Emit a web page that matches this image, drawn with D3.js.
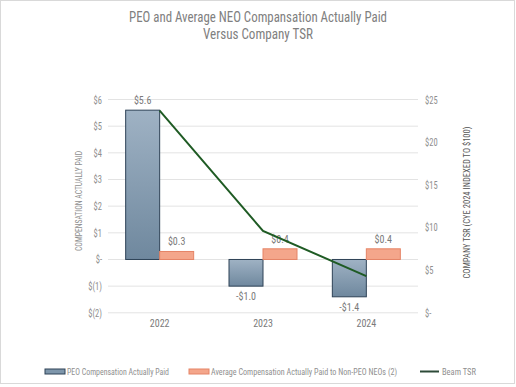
<!DOCTYPE html>
<html><head><meta charset="utf-8">
<script src="https://cdn.jsdelivr.net/npm/d3@7"></script>
<style>
html,body{margin:0;padding:0;background:#fff;}
svg{display:block;}
text{font-family:"Roboto Condensed","Liberation Sans Narrow",Roboto,sans-serif;}
</style></head>
<body>
<svg id="c" width="516" height="387"></svg>
<script>
const years = ["2022","2023","2024"];
const peoCAP = [5.6, -1.0, -1.4];
const neoCAP = [0.3, 0.4, 0.4];
const tsr = [23.7, 9.6, 4.3];
const peoLabels = ["$5.6","-$1.0","-$1.4"];
const neoLabels = ["$0.3","$0.4","$0.4"];
const leftTicks = [-2,-1,0,1,2,3,4,5,6];
const leftTickLabels = ["$(2)","$(1)","$-","$1","$2","$3","$4","$5","$6"];
const rightTicks = [0,5,10,15,20,25];
const rightTickLabels = ["$-","$5","$10","$15","$20","$25"];
const titleLines = ["PEO and Average  NEO Compansation Actually Paid","Versus Company TSR"];
const legendItems = ["PEO Compensation Actually Paid","Average Compensation Actually Paid to Non-PEO NEOs (2)","Beam TSR"];

const svg = d3.select("#c");
const m = {l:108, r:418, t:99.5, b:312.8};

svg.append("rect").attr("x",0.5).attr("y",0.5).attr("width",514).attr("height",383)
  .attr("fill","none").attr("stroke","#d9d9d9").attr("stroke-width",1);

const defs = svg.append("defs");
const g1 = defs.append("linearGradient").attr("id","peoGrad").attr("x1",0).attr("y1",0).attr("x2",0).attr("y2",1);
g1.append("stop").attr("offset","0%").attr("stop-color","#9fb2c4");
g1.append("stop").attr("offset","100%").attr("stop-color","#6f889e");

const x = d3.scaleBand().domain(years).range([m.l, m.r]);
const yL = d3.scaleLinear().domain([-2,6]).range([m.b, m.t]);
const yR = d3.scaleLinear().domain([0,25]).range([m.b, m.t]);
const barW = 34;

svg.append("g").selectAll("line").data(leftTicks).join("line")
  .attr("x1",m.l).attr("x2",m.r).attr("y1",d=>yL(d)).attr("y2",d=>yL(d))
  .attr("stroke","#e3e3e3").attr("stroke-width",1);

const axL = d3.axisLeft(yL).tickValues(leftTicks).tickSize(0).tickPadding(0)
  .tickFormat((d,i)=>leftTickLabels[i]);
const gL = svg.append("g").attr("transform",`translate(102,0)`).call(axL);
gL.select(".domain").remove();
gL.selectAll("text").attr("fill","#8f8f8f").style("font-size","10px").attr("dy","0.35em")
  .attr("textLength",function(){return this.getComputedTextLength()*0.85;}).attr("lengthAdjust","spacingAndGlyphs");

const axR = d3.axisRight(yR).tickValues(rightTicks).tickSize(0).tickPadding(0)
  .tickFormat((d,i)=>rightTickLabels[i]);
const gR = svg.append("g").attr("transform",`translate(425,0)`).call(axR);
gR.select(".domain").remove();
gR.selectAll("text").attr("fill","#8f8f8f").style("font-size","10px").attr("dy","0.35em")
  .attr("textLength",function(){return this.getComputedTextLength()*0.85;}).attr("lengthAdjust","spacingAndGlyphs");

svg.append("g").selectAll("text").data(years).join("text")
  .attr("x",d=>x(d)+x.bandwidth()/2).attr("y",327).attr("text-anchor","middle")
  .attr("fill","#7a7a7a").style("font-size","10px").text(d=>d);

const cx = d => x(d)+x.bandwidth()/2;
svg.append("g").selectAll("rect").data(years).join("rect")
  .attr("x",d=>cx(d)-barW).attr("width",barW)
  .attr("y",(d,i)=>Math.min(yL(peoCAP[i]),yL(0)))
  .attr("height",(d,i)=>Math.abs(yL(peoCAP[i])-yL(0)))
  .attr("fill","url(#peoGrad)").attr("stroke","#2e4257").attr("stroke-width",1);

svg.append("g").selectAll("rect").data(years).join("rect")
  .attr("x",d=>cx(d)).attr("width",barW)
  .attr("y",(d,i)=>Math.min(yL(neoCAP[i]),yL(0)))
  .attr("height",(d,i)=>Math.abs(yL(neoCAP[i])-yL(0)))
  .attr("fill","#f4a68b").attr("stroke","#e58466").attr("stroke-width",1);

svg.append("g").selectAll("text").data(years).join("text")
  .attr("x",d=>cx(d)-barW/2)
  .attr("y",(d,i)=>peoCAP[i]>=0 ? yL(peoCAP[i])-6 : yL(peoCAP[i])+14)
  .attr("text-anchor","middle").attr("fill","#7a7a7a").style("font-size","10px")
  .text((d,i)=>peoLabels[i]);
svg.append("g").selectAll("text").data(years).join("text")
  .attr("x",d=>cx(d)+barW/2)
  .attr("y",(d,i)=>yL(neoCAP[i])-6)
  .attr("text-anchor","middle").attr("fill","#7a7a7a").style("font-size","10px")
  .text((d,i)=>neoLabels[i]);

const line = d3.line().x((d,i)=>cx(years[i])).y(d=>yR(d));
svg.append("path").datum(tsr).attr("d",line).attr("fill","none")
  .attr("stroke","#1f5b24").attr("stroke-width",2);

svg.append("text").attr("transform","translate(82,201) rotate(-90)")
  .attr("text-anchor","middle").attr("fill","#8f8f8f").style("font-size","9px")
  .attr("textLength",100).attr("lengthAdjust","spacingAndGlyphs")
  .text("COMPENSATION ACTUALLY PAID");
svg.append("text").attr("transform","translate(469.5,202.5) rotate(-90)")
  .attr("text-anchor","middle").attr("fill","#555").style("font-size","9.5px")
  .attr("textLength",152).attr("lengthAdjust","spacingAndGlyphs")
  .text("COMPANY TSR (CYE 2024  INDEXED TO $100)");

const titleW = [258,110];
svg.append("g").selectAll("text").data(titleLines).join("text")
  .attr("x",258).attr("y",(d,i)=>22+i*17).attr("text-anchor","middle")
  .attr("fill","#808080").style("font-size","14px")
  .attr("textLength",(d,i)=>titleW[i]).attr("lengthAdjust","spacingAndGlyphs")
  .text(d=>d);

const lg = svg.append("g");
const lx = [45,189,420];
const lw = [102,186,34];
lg.append("rect").attr("x",lx[0]).attr("y",369).attr("width",20).attr("height",5)
  .attr("fill","#7e96ab").attr("stroke","#2e4257");
lg.append("rect").attr("x",lx[1]).attr("y",369).attr("width",20).attr("height",5)
  .attr("fill","#f4a68b").attr("stroke","#e58466");
lg.append("line").attr("x1",lx[2]).attr("x2",lx[2]+19).attr("y1",371.5).attr("y2",371.5)
  .attr("stroke","#2d4a38").attr("stroke-width",2);
lg.selectAll("text").data(legendItems).join("text")
  .attr("x",(d,i)=>lx[i]+22).attr("y",375).attr("fill","#8f8f8f").style("font-size","9.5px")
  .attr("textLength",(d,i)=>lw[i]).attr("lengthAdjust","spacingAndGlyphs")
  .text(d=>d);
</script>
</body></html>
